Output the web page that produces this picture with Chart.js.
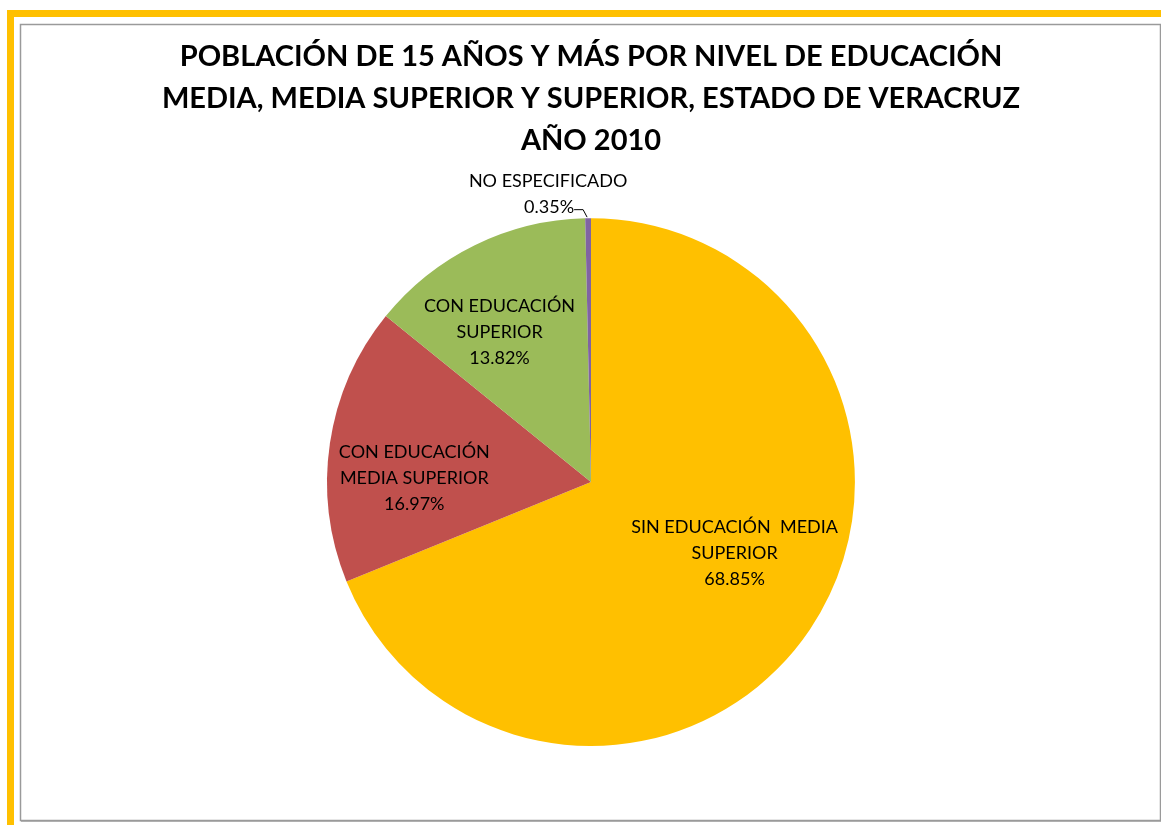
<!DOCTYPE html>
<html>
<head>
<meta charset="utf-8">
<script src="https://cdn.jsdelivr.net/npm/chart.js@4.4.1/dist/chart.umd.min.js"></script>
<style>
  html, body { margin: 0; padding: 0; background: #fff; }
  #wrap { width: 1161px; height: 825px; }
</style>
</head>
<body>
<div id="wrap"><canvas id="chart" width="1161" height="825"></canvas></div>
<script>
// data
const categories = [
    ['SIN EDUCACIÓN  MEDIA', 'SUPERIOR'],
    ['CON EDUCACIÓN', 'MEDIA SUPERIOR'],
    ['CON EDUCACIÓN', 'SUPERIOR'],
    ['NO ESPECIFICADO']
];
const percentages = [68.85, 16.97, 13.82, 0.35];
const sliceColors = ['#FFC000', '#C0504D', '#9BBB59', '#8064A2'];
const titleLines = [
    'POBLACIÓN DE 15 AÑOS Y MÁS POR NIVEL DE EDUCACIÓN',
    'MEDIA, MEDIA SUPERIOR Y SUPERIOR, ESTADO DE VERACRUZ',
    'AÑO 2010'
];

// label placement: [angle shift (deg), fraction of radius, y nudge], null = outside with leader
const labelPlacement = [[-9, 0.6, 4], [-6, 0.67, 4], [-5, 0.67, 1], null];

const FONT = 'Lato, "Open Sans", sans-serif';

// frame: yellow outer border + thin grey chart border
const framePlugin = {
    id: 'frame',
    beforeDraw(chart) {
        const ctx = chart.ctx;
        ctx.save();
        ctx.fillStyle = '#fff';
        ctx.fillRect(0, 0, chart.width, chart.height);
        ctx.strokeStyle = '#FFC000';
        ctx.lineWidth = 7;
        ctx.beginPath();
        ctx.moveTo(10.5, chart.height + 5);
        ctx.lineTo(10.5, 13.5);
        ctx.lineTo(chart.width + 5, 13.5);
        ctx.stroke();
        ctx.strokeStyle = '#9a9a9a';
        ctx.lineWidth = 1.5;
        ctx.strokeRect(20.5, 24.5, chart.width - 21, 796);
        ctx.strokeStyle = '#b0b0b0';
        ctx.lineWidth = 1;
        ctx.beginPath();
        ctx.moveTo(21, 821.5);
        ctx.lineTo(chart.width, 821.5);
        ctx.stroke();
        ctx.restore();
    }
};

// data labels in the style of the spreadsheet chart
const sliceLabels = {
    id: 'sliceLabels',
    afterDatasetsDraw(chart) {
        const ctx = chart.ctx;
        const meta = chart.getDatasetMeta(0);
        ctx.save();
        ctx.font = '18px ' + FONT;
        ctx.fillStyle = '#000';
        ctx.textAlign = 'center';
        ctx.textBaseline = 'middle';
        const lh = 26;
        meta.data.forEach((arc, i) => {
            const p = arc.getProps(['x', 'y', 'startAngle', 'endAngle', 'outerRadius']);
            const lines = categories[i].concat([percentages[i].toFixed(2) + '%']);
            const place = labelPlacement[i];
            if (place) {
                const mid = (p.startAngle + p.endAngle) / 2 + place[0] * Math.PI / 180;
                const r = p.outerRadius * place[1];
                const cx = p.x + Math.cos(mid) * r;
                const cy = p.y + Math.sin(mid) * r + place[2];
                const top = cy - (lines.length - 1) * lh / 2;
                lines.forEach((t, k) => ctx.fillText(t, cx, top + k * lh));
            } else {
                // outside label with a short leader line
                const mid = (p.startAngle + p.endAngle) / 2;
                const ex = p.x + Math.cos(mid) * p.outerRadius;
                const ey = p.y + Math.sin(mid) * p.outerRadius;
                ctx.fillText(lines[0], ex - 40, ey - 37);
                ctx.textAlign = 'right';
                ctx.fillText(lines[1], ex - 14, ey - 11);
                ctx.strokeStyle = '#000';
                ctx.lineWidth = 1;
                ctx.beginPath();
                ctx.moveTo(ex - 14, ey - 8.5);
                ctx.lineTo(ex - 5, ey - 8.5);
                ctx.lineTo(ex - 1, ey - 1);
                ctx.stroke();
            }
        });
        ctx.restore();
    }
};

const ctx = document.getElementById('chart').getContext('2d');
new Chart(ctx, {
    type: 'pie',
    data: {
        labels: categories.map(c => c.join(' ')),
        datasets: [{
            data: percentages,
            backgroundColor: sliceColors,
            borderWidth: 0
        }]
    },
    options: {
        responsive: false,
        animation: false,
        layout: {
            padding: { top: 36, bottom: 79, left: 121, right: 100 }
        },
        plugins: {
            legend: { display: false },
            tooltip: { enabled: false },
            title: {
                display: true,
                text: titleLines,
                color: '#000',
                font: { family: FONT, size: 29, weight: 'bold', lineHeight: 1.45 },
                padding: { top: 0, bottom: 56 }
            }
        }
    },
    plugins: [framePlugin, sliceLabels]
});
</script>
</body>
</html>
